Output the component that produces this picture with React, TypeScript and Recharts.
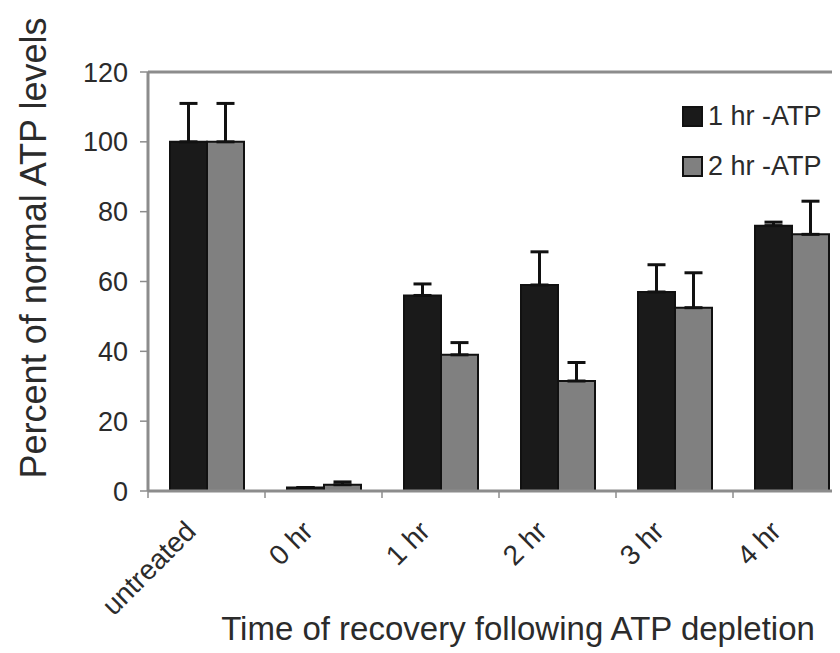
import React from 'react';
import { BarChart, Bar, XAxis, YAxis, ErrorBar, Legend, ReferenceLine, Customized } from 'recharts';

const categories = ['untreated', '0 hr', '1 hr', '2 hr', '3 hr', '4 hr'];
const oneHrAtp = [100, 1, 56, 59, 57, 76];
const twoHrAtp = [100, 1.8, 39, 31.5, 52.5, 73.5];
const oneHrErr = [11, 0, 3.3, 9.5, 7.8, 1];
const twoHrErr = [11, 0.8, 3.5, 5.3, 10, 9.5];
const yTicks = [0, 20, 40, 60, 80, 100, 120];

const data = categories.map((name, i) => ({
  name,
  oneHr: oneHrAtp[i],
  twoHr: twoHrAtp[i],
  oneHrErr: [0, oneHrErr[i]],
  twoHrErr: [0, twoHrErr[i]],
}));

const FONT = '"Liberation Sans", Arial, sans-serif';
const AXIS_GREY = '#8c8c8c';
const TEXT = '#2b2b2b';

const series = [
  { key: 'oneHr', label: '1 hr -ATP', fill: '#1a1a1a' },
  { key: 'twoHr', label: '2 hr -ATP', fill: '#808080' },
];

// tick mark sits on the category boundary, label rotated under the centre
const CategoryTick = (props: any) => {
  const { x, y, payload } = props;
  const half = payload?.offset ?? 0;
  const tx = x - 9;
  const ty = y + 42;
  return (
    <g>
      <line x1={x - half} y1={y} x2={x - half} y2={y + 7} stroke={AXIS_GREY} strokeWidth={1.5} />
      <text
        x={tx}
        y={ty}
        transform={`rotate(-45, ${tx}, ${ty})`}
        textAnchor="end"
        fontFamily={FONT}
        fontSize={28}
        fill={TEXT}
      >
        {payload.value}
      </text>
    </g>
  );
};

const renderLegend = () => (
  <div style={{ fontFamily: FONT, fontSize: 27, color: TEXT }}>
    {series.map((s) => (
      <div key={s.key} style={{ display: 'flex', alignItems: 'center', height: 50 }}>
        <span
          style={{
            display: 'inline-block',
            width: 17,
            height: 17,
            background: s.fill,
            border: '2px solid #111',
            marginRight: 5,
          }}
        />
        <span>{s.label}</span>
      </div>
    ))}
  </div>
);

const Titles = () => (
  <g fontFamily={FONT} fill={TEXT}>
    <text x={38} y={240} transform="rotate(-90, 38, 240)" textAnchor="middle" fontSize={36}>
      Percent of normal ATP levels
    </text>
    <text x={510} y={632} textAnchor="middle" fontSize={33}>
      Time of recovery following ATP depletion
    </text>
  </g>
);

export default function App() {
  return (
    <div style={{ width: 832, height: 645, overflow: 'hidden' }}>
      <BarChart
        width={850}
        height={645}
        data={data}
        margin={{ top: 64, right: 8, bottom: 62, left: 60 }}
        barGap={0}
        barCategoryGap={22}
      >
        <XAxis
          dataKey="name"
          height={100}
          interval={0}
          tickLine={false}
          tickSize={0}
          tickMargin={0}
          axisLine={{ stroke: AXIS_GREY, strokeWidth: 3 }}
          tick={<CategoryTick />}
        />
        <YAxis
          width={80}
          domain={[0, 120]}
          ticks={yTicks}
          interval={0}
          tickSize={8}
          tickMargin={12}
          axisLine={{ stroke: AXIS_GREY, strokeWidth: 3 }}
          tickLine={{ stroke: AXIS_GREY, strokeWidth: 1.5 }}
          tick={{ fontFamily: FONT, fontSize: 27, fill: TEXT }}
        />
        <ReferenceLine y={120} stroke={AXIS_GREY} strokeWidth={3} />
        {series.map((s) => (
          <Bar
            key={s.key}
            dataKey={s.key}
            name={s.label}
            fill={s.fill}
            stroke="#111"
            strokeWidth={2}
            isAnimationActive={false}
          >
            <ErrorBar
              dataKey={`${s.key}Err`}
              direction="y"
              width={9}
              stroke="#111"
              strokeWidth={3}
              isAnimationActive={false}
            />
          </Bar>
        ))}
        <Legend
          layout="vertical"
          align="center"
          verticalAlign="middle"
          content={renderLegend}
          wrapperStyle={{ top: 83, left: 674, width: 170, height: 100 }}
        />
        <Customized component={Titles} />
      </BarChart>
    </div>
  );
}
